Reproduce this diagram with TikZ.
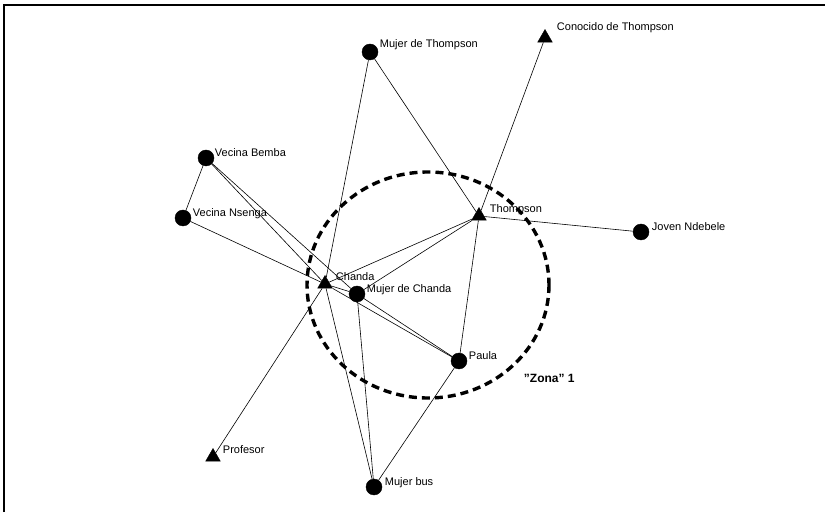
\documentclass[tikz,border=0pt]{standalone}
\usepackage{fontspec}
\setmainfont{Liberation Sans}
\usepackage{tikz}
\usetikzlibrary{shapes.geometric}

\tikzset{
  mujer/.style={circle,fill=black,draw=black,minimum size=16pt,inner sep=0pt},
  varon/.style={regular polygon,regular polygon sides=3,fill=black,draw=black,minimum size=17pt,inner sep=0pt},
  etiq/.style={anchor=west,inner sep=0.75pt,font=\fontsize{11}{13}\selectfont},
  lazo/.style={line width=0.6pt},
}

\begin{document}
\begin{tikzpicture}[x=1pt,y=1pt,yscale=-1,xscale=1]
  \useasboundingbox (0,0) rectangle (825,518);

  %Frame
  \draw [line width=1.6pt] (4,512) -- (4,5) -- (825,5) ;

  %Shape: Zona ellipse
  \draw [line width=3.4pt,dash pattern={on 8pt off 5pt}] (428,285) ellipse [x radius=121,y radius=113] ;

  %Nodes
  \node [varon] (conocido) at (545,38) {};
  \node [mujer] (mujerT) at (370,52) {};
  \node [mujer] (bemba) at (206,158) {};
  \node [mujer] (nsenga) at (183,218) {};
  \node [varon] (thompson) at (479,216) {};
  \node [mujer] (joven) at (641,232) {};
  \node [varon] (chanda) at (325,284) {};
  \node [mujer] (mujerC) at (357,294) {};
  \node [mujer] (paula) at (459,361) {};
  \node [varon] (profesor) at (213,457) {};
  \node [mujer] (bus) at (374,487) {};

  %Straight Lines
  \draw [lazo] (mujerT) -- (chanda) ;
  \draw [lazo] (mujerT) -- (thompson) ;
  \draw [lazo] (conocido) -- (thompson) ;
  \draw [lazo] (thompson) -- (joven) ;
  \draw [lazo] (thompson) -- (chanda) ;
  \draw [lazo] (thompson) -- (mujerC) ;
  \draw [lazo] (thompson) -- (paula) ;
  \draw [lazo] (bemba) -- (nsenga) ;
  \draw [lazo] (bemba) -- (chanda) ;
  \draw [lazo] (bemba) -- (mujerC) ;
  \draw [lazo] (nsenga) -- (chanda) ;
  \draw [lazo] (chanda) -- (mujerC) ;
  \draw [lazo] (chanda) -- (paula) ;
  \draw [lazo] (mujerC) -- (paula) ;
  \draw [lazo] (chanda) -- (bus) ;
  \draw [lazo] (mujerC) -- (bus) ;
  \draw [lazo] (paula) -- (bus) ;
  \draw [lazo] (profesor) -- (chanda) ;

  % Text Node
  \node [etiq] (tconocido) at (556,28) {Conocido de Thompson};
  % Text Node
  \node [etiq] (tmujerT) at (379,45) {Mujer de Thompson};
  % Text Node
  \node [etiq] (tbemba) at (214,153) {Vecina Bemba};
  % Text Node
  \node [etiq] (tnsenga) at (192,214) {Vecina Nsenga};
  % Text Node
  \node [etiq] (tthompson) at (489,210) {Thompson};
  % Text Node
  \node [etiq] (tjoven) at (651,227) {Joven Ndebele};
  % Text Node
  \node [etiq] (tchanda) at (335,277) {Chanda};
  % Text Node
  \node [etiq] (tmujerC) at (366,290) {Mujer de Chanda};
  % Text Node
  \node [etiq] (tpaula) at (468,356) {Paula};
  % Text Node
  \node [etiq] (tprofesor) at (222,450) {Profesor};
  % Text Node
  \node [etiq] (tbus) at (384,483) {Mujer bus};
  % Text Node
  \node [anchor=west,inner sep=0.75pt,font=\fontsize{12}{14}\selectfont\bfseries] (tzona) at (523,378) {\symbol{34}Zona\symbol{34} 1};

\end{tikzpicture}
\end{document}
